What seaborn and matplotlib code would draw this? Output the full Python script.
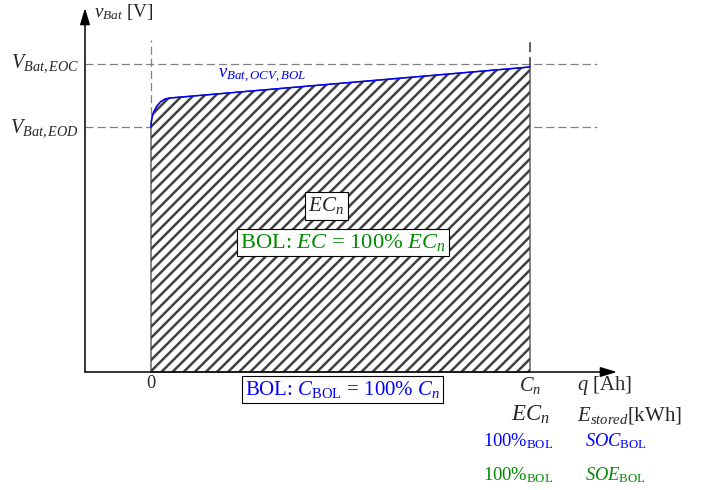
import numpy as np
import matplotlib
matplotlib.use("Agg")
import matplotlib.pyplot as plt
import seaborn as sns

# ---------------- data (normalised schematic units) ----------------
q_curve = [0.0, 0.0008, 0.0030, 0.0066, 0.0148, 0.0251, 0.0372, 0.0501, 1.0]          # charge q / C_n
v_curve = [1.0, 1.0200, 1.0420, 1.0592, 1.0837, 1.1024, 1.1143, 1.1184, 1.2449]   # v_Bat,OCV,BOL
V_EOD = 1.0
V_EOC = 1.257
C_n = 1.0

label_vbat = r"$v_{Bat}$ [V]"
label_eoc = r"$V_{Bat,EOC}$"
label_eod = r"$V_{Bat,EOD}$"
label_ocv = r"$v_{Bat,OCV,BOL}$"
label_ecn_box = r"$EC_n$"
label_ec_box = r"BOL: $EC$ = 100% $EC_n$"
label_c_box = r"BOL: $C_{\mathrm{BOL}}$ = 100% $C_n$"
xtick_labels = ["0", r"$C_n$"]
xlabel_q = r"$q$ [Ah]"
row_energy = [r"$EC_n$", r"$E_{stored}$[kWh]"]
row_soc = [r"$100\%_{\mathrm{BOL}}$", r"$SOC_{\mathrm{BOL}}$"]
row_soe = [r"$100\%_{\mathrm{BOL}}$", r"$SOE_{\mathrm{BOL}}$"]

BLUE = "#0000ff"
GREEN = "#008a00"
GRAY = "#808080"

# ---------------- style ----------------
sns.set_theme(style="white")
plt.rcParams["font.family"] = ["Liberation Serif", "DejaVu Serif"]
plt.rcParams["mathtext.fontset"] = "custom"
plt.rcParams["mathtext.rm"] = "Liberation Serif"
plt.rcParams["mathtext.it"] = "Liberation Serif:italic"
plt.rcParams["mathtext.bf"] = "Liberation Serif:bold"
plt.rcParams["hatch.linewidth"] = 1.8

DPI = 100
fig = plt.figure(figsize=(7.08, 4.90), dpi=DPI)
ax = fig.add_axes([0, 0, 1, 1])

# pixel -> data helpers for annotation placement
def X(px):
    return (px - 151) / 379.0

def Y(py):
    return (372 - py) / 245.0

ax.set_xlim(X(0), X(708))
ax.set_ylim(Y(490), Y(0))

# hatched region under the curve
ax.fill_between(q_curve, 0, v_curve, facecolor="white", edgecolor="#404040",
                hatch="///", linewidth=0.9, zorder=2)

# OCV curve
sns.lineplot(x=q_curve, y=v_curve, color=BLUE, lw=1.1, ax=ax, legend=False,
             estimator=None, zorder=4)

# dashed guide lines
x_axis0 = X(85)
dash = (6.5, 3.2)
ax.plot([x_axis0, X(597)], [V_EOC, V_EOC], color=GRAY, lw=0.9, dashes=dash, zorder=1)
ax.plot([x_axis0, X(597)], [V_EOD, V_EOD], color=GRAY, lw=0.9, dashes=dash, zorder=1)
ax.plot([0, 0], [V_EOD, Y(40)], color=GRAY, lw=0.9, dashes=dash, zorder=1)
ax.plot([C_n, C_n], [v_curve[-1], Y(41)], color="#333333", lw=1.1, dashes=dash, zorder=1)

# axes arrows
arrow_kw = dict(arrowstyle="-|>,head_length=1.0,head_width=0.3", color="black",
                lw=1.1, shrinkA=0, shrinkB=0, mutation_scale=10)
ax.annotate("", xy=(x_axis0, Y(8)), xytext=(x_axis0, 0), arrowprops=arrow_kw, zorder=5)
ax.annotate("", xy=(X(617), 0), xytext=(x_axis0, 0), arrowprops=arrow_kw, zorder=5)

ax.set_axis_off()

# texts
ax.text(X(94), Y(12), label_vbat, fontsize=13.8, ha="left", va="center")
ax.text(X(79), Y(67), label_eoc, fontsize=14.6, ha="right", va="baseline")
ax.text(X(79), Y(132), label_eod, fontsize=14.6, ha="right", va="baseline")
ax.text(X(218), Y(78), label_ocv, fontsize=13.3, color=BLUE, ha="left", va="baseline")

box_kw = dict(boxstyle="square,pad=0.15", facecolor="white", edgecolor="black", lw=0.8)
ax.text(X(326.5), Y(206), label_ecn_box, fontsize=15.2, ha="center", va="center",
        bbox=box_kw, zorder=6)
ax.text(X(343), Y(242.5), label_ec_box, fontsize=16.2, color=GREEN, ha="center",
        va="center", bbox=box_kw, zorder=6)
ax.text(X(342.5), Y(389.5), label_c_box, fontsize=15.0, color=BLUE, ha="center",
        va="center", bbox=box_kw, zorder=6)

ax.text(0, Y(383), xtick_labels[0], fontsize=13.2, ha="center", va="center")
ax.text(C_n, Y(385), xtick_labels[1], fontsize=14.8, ha="center", va="center")
ax.text(X(577), Y(385), xlabel_q, fontsize=14.8, ha="left", va="center")

ax.text(C_n, Y(415), row_energy[0], fontsize=16.5, ha="center", va="center")
ax.text(X(577), Y(415), row_energy[1], fontsize=15.0, ha="left", va="center")

ax.text(X(553), Y(441), row_soc[0], fontsize=13.3, color=BLUE, ha="right", va="center")
ax.text(X(585), Y(441), row_soc[1], fontsize=13.3, color=BLUE, ha="left", va="center")
ax.text(X(553), Y(475), row_soe[0], fontsize=13.3, color=GREEN, ha="right", va="center")
ax.text(X(585), Y(475), row_soe[1], fontsize=13.3, color=GREEN, ha="left", va="center")

fig.savefig("out.png", dpi=DPI)
